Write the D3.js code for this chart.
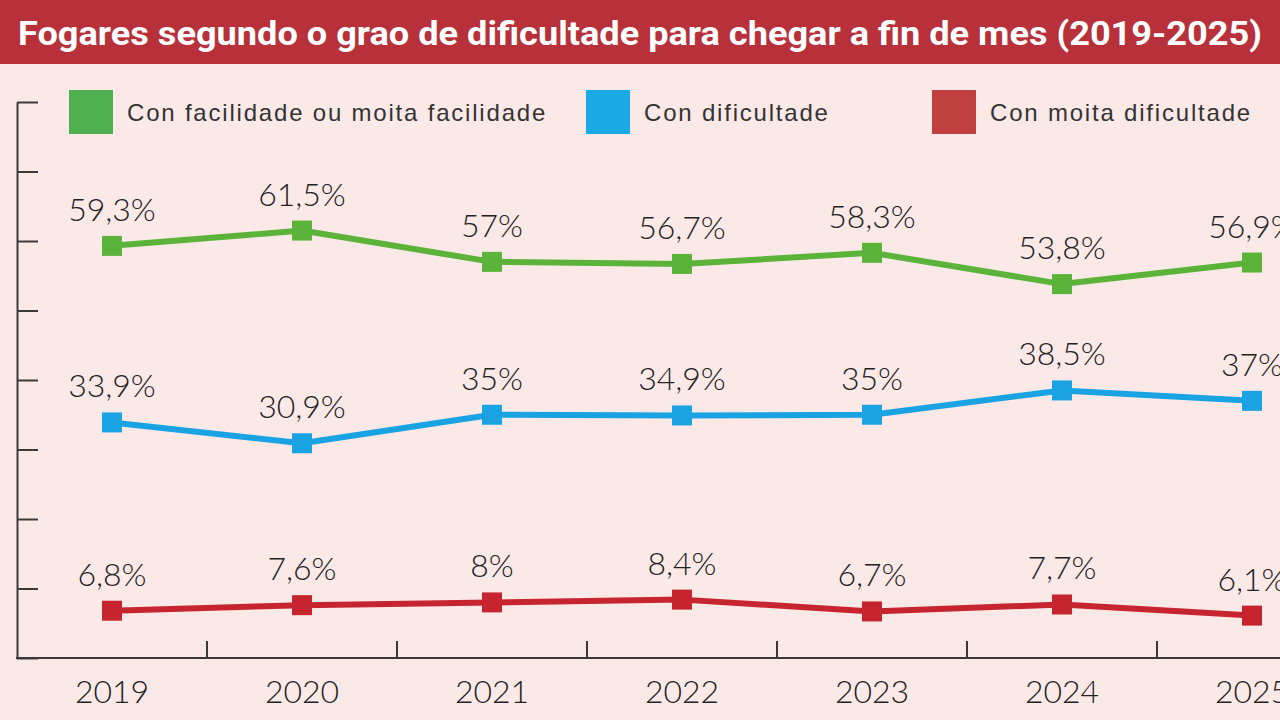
<!DOCTYPE html>
<html>
<head>
<meta charset="utf-8">
<script src="https://cdn.jsdelivr.net/npm/d3@7"></script>
<style>
  html, body { margin: 0; padding: 0; background: #fbe9e8; }
  svg { display: block; }
</style>
</head>
<body>
<svg id="chart"></svg>
<script>
// data
let years = ['2019', '2020', '2021', '2022', '2023', '2024', '2025']
let facilidade = [59.3, 61.5, 57, 56.7, 58.3, 53.8, 56.9]
let dificultade = [33.9, 30.9, 35, 34.9, 35, 38.5, 37]
let moitaDificultade = [6.8, 7.6, 8, 8.4, 6.7, 7.7, 6.1]
let seriesNames = ['Con facilidade ou moita facilidade', 'Con dificultade', 'Con moita dificultade']
let yTicks = [0, 10, 20, 30, 40, 50, 60, 70, 80]
let title = 'Fogares segundo o grao de dificultade para chegar a fin de mes (2019-2025)'

let width = 1280
let height = 720
let lineColors = ['#5bb33a', '#1aa3e3', '#c62530']
let legendColors = ['#4fb04f', '#1aa9e6', '#c0403f']

let series = [facilidade, dificultade, moitaDificultade].map((vals, i) => ({
  name: seriesNames[i],
  color: lineColors[i],
  values: vals.map((v, j) => ({ year: years[j], value: v }))
}))

const svg = d3.select('#chart')
  .attr('width', width)
  .attr('height', height)
  .attr('viewBox', [0, 0, width, height])

svg.append('rect')
  .attr('width', width).attr('height', height)
  .attr('fill', '#fbe9e8')

// title bar
svg.append('rect')
  .attr('width', width).attr('height', 64)
  .attr('fill', '#b7303a')
svg.append('text')
  .attr('x', 18).attr('y', 45)
  .attr('fill', '#fff')
  .attr('font-family', '"Liberation Sans Narrow", Roboto, sans-serif')
  .attr('font-weight', 'bold')
  .attr('font-size', 34)
  .attr('textLength', 1244)
  .attr('lengthAdjust', 'spacingAndGlyphs')
  .text(title)

let x = d3.scaleBand()
  .domain(years)
  .range([17, 17 + 190 * years.length])
  .padding(0)

let y = d3.scaleLinear()
  .domain([0, 80])
  .range([658, 102])

let cx = d => x(d) + x.bandwidth() / 2

// y axis (its labels fall outside the picture, only line and ticks)
svg.append('g')
  .attr('transform', 'translate(17,0)')
  .call(d3.axisRight(y).tickValues(yTicks).tickSize(21).tickSizeOuter(0).tickFormat(''))
  .call(g => g.select('.domain').attr('stroke', '#3a3a3a').attr('stroke-width', 2))
  .call(g => g.selectAll('.tick line').attr('stroke', '#3a3a3a').attr('stroke-width', 2))

// x axis: ticks between the years, pointing up
let xAxis = svg.append('g')
  .attr('transform', `translate(0,${y(0)})`)
xAxis.append('line')
  .attr('x1', 16).attr('x2', width)
  .attr('stroke', '#3a3a3a').attr('stroke-width', 2)
xAxis.selectAll('.sep')
  .data(years.slice(1))
  .join('line')
    .attr('class', 'sep')
    .attr('x1', d => x(d)).attr('x2', d => x(d))
    .attr('y1', 0).attr('y2', -17)
    .attr('stroke', '#3a3a3a').attr('stroke-width', 2)
xAxis.selectAll('.yr')
  .data(years)
  .join('text')
    .attr('class', 'yr')
    .attr('x', d => cx(d))
    .attr('y', 45)
    .attr('text-anchor', 'middle')
    .attr('fill', '#222')
    .attr('font-family', 'Lato, "Open Sans", sans-serif')
    .attr('font-weight', 300)
    .attr('font-size', 32)
    .text(d => d)

// lines
let line = d3.line()
  .x(d => cx(d.year))
  .y(d => y(d.value))

let sg = svg.append('g')
  .selectAll('g')
  .data(series)
  .join('g')

sg.append('path')
  .attr('d', d => line(d.values))
  .attr('fill', 'none')
  .attr('stroke', d => d.color)
  .attr('stroke-width', 6)
  .attr('stroke-linejoin', 'round')

sg.each(function(s) {
  let g = d3.select(this)
  g.selectAll('rect')
    .data(s.values)
    .join('rect')
      .attr('x', d => cx(d.year) - 10)
      .attr('y', d => y(d.value) - 10)
      .attr('width', 20).attr('height', 20)
      .attr('fill', s.color)
  g.selectAll('text')
    .data(s.values)
    .join('text')
      .attr('x', d => cx(d.year))
      .attr('y', d => y(d.value) - 25)
      .attr('text-anchor', 'middle')
      .attr('fill', '#222')
      .attr('font-family', 'Lato, "Open Sans", sans-serif')
      .attr('font-weight', 300)
      .attr('font-size', 32)
      .text(d => String(d.value).replace('.', ',') + '%')
})

// legend
let legendX = [69, 586, 932]
let legend = svg.append('g')
  .selectAll('g')
  .data(seriesNames)
  .join('g')
    .attr('transform', (d, i) => `translate(${legendX[i]},90)`)
legend.append('rect')
  .attr('width', 44).attr('height', 44)
  .attr('fill', (d, i) => legendColors[i])
legend.append('text')
  .attr('x', 58).attr('y', 31)
  .attr('fill', '#333')
  .attr('font-family', '"Liberation Sans", Arial, sans-serif')
  .attr('font-size', 24)
  .attr('letter-spacing', 1.8)
  .text(d => d)
</script>
</body>
</html>
